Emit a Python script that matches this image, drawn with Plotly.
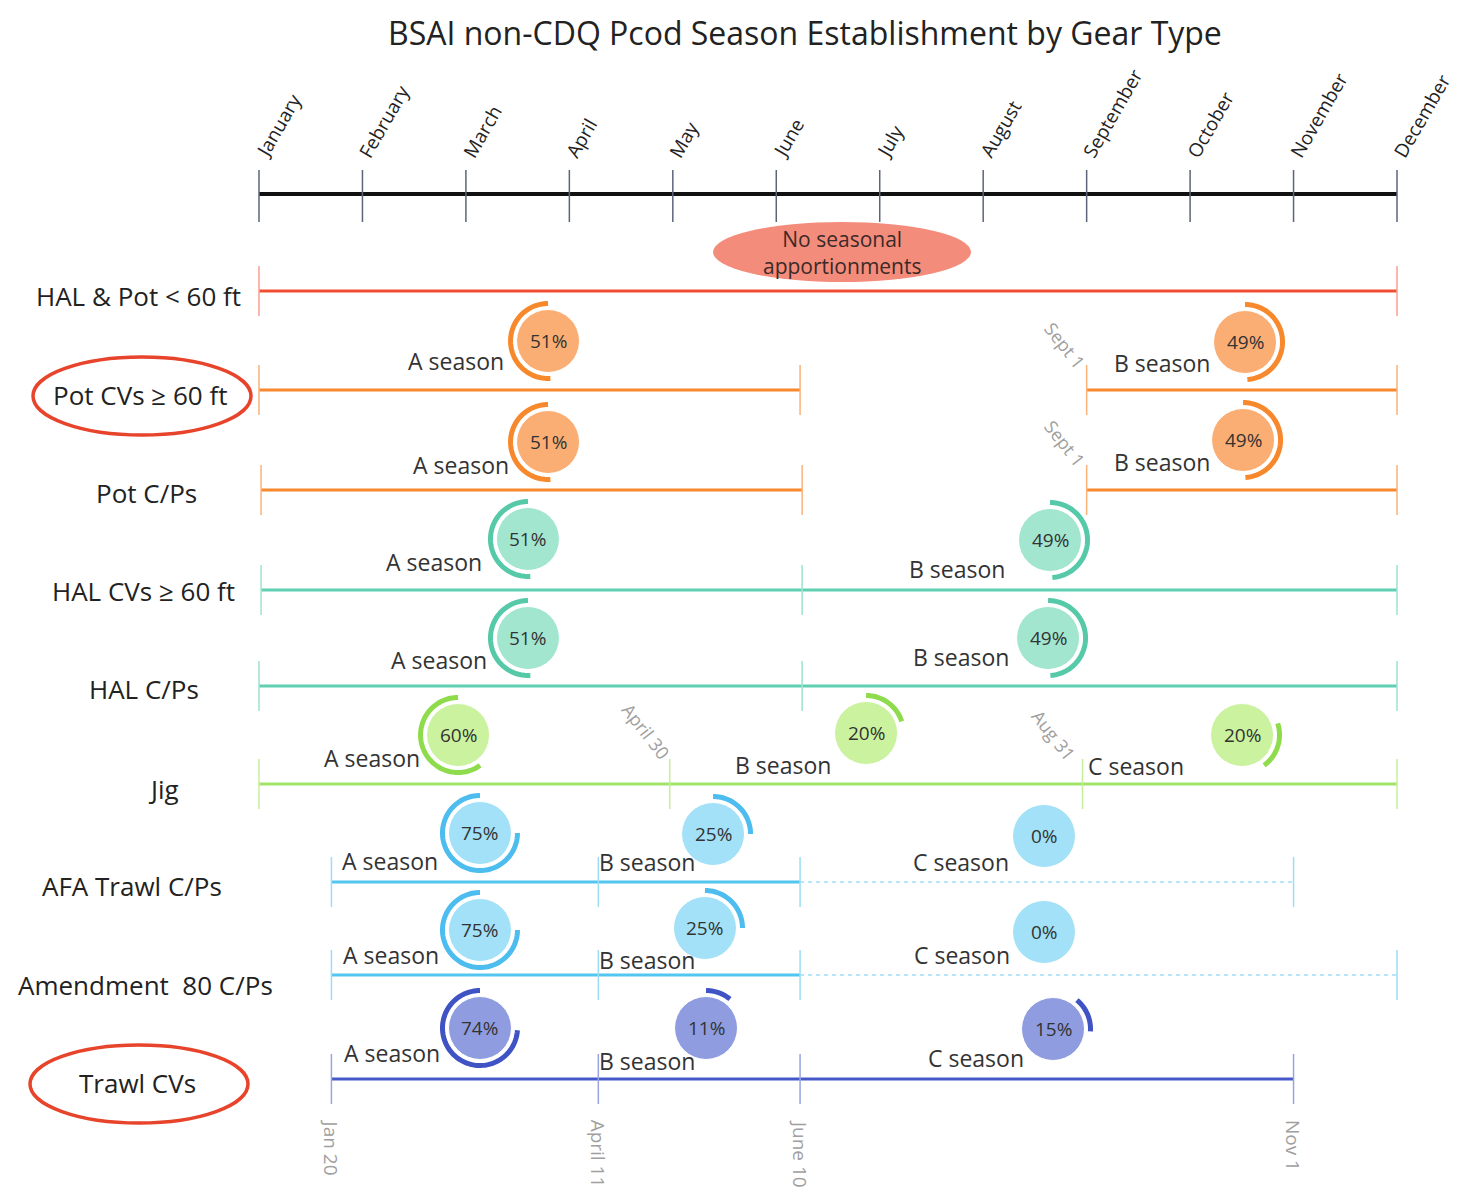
import math
import plotly.graph_objects as go

# ---------------- data ----------------
months = ["January", "February", "March", "April", "May", "June", "July",
          "August", "September", "October", "November", "December"]
month_pos = [0, 1, 2, 3, 4, 5, 6, 7, 8, 9, 10, 11]

gear_types = ["HAL & Pot < 60 ft", "Pot CVs ≥ 60 ft", "Pot C/Ps", "HAL CVs ≥ 60 ft",
              "HAL C/Ps", "Jig", "AFA Trawl C/Ps", "Amendment&nbsp; 80 C/Ps", "Trawl CVs"]
highlighted_gear = ["Pot CVs ≥ 60 ft", "Trawl CVs"]

# season line segments per gear type: (start, end) in month units, and line style
seg_start = [[0.0], [0.0, 8.0], [0.02, 8.0], [0.02, 5.25], [0.0, 5.25],
             [0.0, 3.97, 7.96], [0.70, 3.28, 5.23], [0.70, 3.28, 5.23], [0.70, 3.28, 5.23]]
seg_end = [[11.0], [5.23, 11.0], [5.25, 11.0], [5.25, 11.0], [5.25, 11.0],
           [3.97, 7.96, 11.0], [3.28, 5.23, 10.0], [3.28, 5.23, 11.0], [3.28, 5.23, 10.0]]
seg_dashed = [[False], [False, False], [False, False], [False, False], [False, False],
              [False, False, False], [False, False, True], [False, False, True],
              [False, False, False]]

# seasonal apportionments
season_row = [1, 1, 2, 2, 3, 3, 4, 4, 5, 5, 5, 6, 6, 6, 7, 7, 7, 8, 8, 8]
season_name = ["A season", "B season", "A season", "B season", "A season", "B season",
               "A season", "B season", "A season", "B season", "C season",
               "A season", "B season", "C season", "A season", "B season", "C season",
               "A season", "B season", "C season"]
season_pct = [51, 49, 51, 49, 51, 49, 51, 49, 60, 20, 20, 75, 25, 0, 75, 25, 0, 74, 11, 15]
# donut position along the year (month units)
season_x = [2.794, 9.531, 2.794, 9.512, 2.600, 7.646, 2.600, 7.627,
            1.924, 5.868, 9.502, 2.136, 4.389, 7.588, 2.136, 4.311, 7.588,
            2.136, 4.321, 7.675]

# boundary date labels
boundary_text = ["Sept 1", "Sept 1", "April 30", "Aug 31"]
boundary_row = [1, 2, 5, 5]
boundary_x = [8.0, 8.0, 3.97, 7.96]

bottom_dates = ["Jan 20", "April 11", "June 10", "Nov 1"]
bottom_x = [0.70, 3.28, 5.23, 10.0]

title = "BSAI non-CDQ Pcod Season Establishment by Gear Type"
note = "No seasonal<br>apportionments"

# ---------------- layout / style ----------------
# The page body has an 8px margin; all positions below are page pixels.
PAGE_W, PAGE_H = 1459, 1195
OFF = 8
W, H = PAGE_W - OFF, PAGE_H - OFF
X0_PX, X11_PX = 259, 1397
PPM = (X11_PX - X0_PX) / 11.0


def px2m(px):
    return (px - X0_PX) / PPM


row_y = [291, 390, 490, 590, 686, 784, 882, 975, 1079]
row_label_cx = [138, 140, 146, 143, 144, 163, 132, 145, 137]
row_label_dy = [5, 5, 3, 1, 3, 5, 4, 10, 4]

line_col = ["#F04E30", "#F7882C", "#F7882C", "#5FD0B2", "#5FD0B2", "#A2E36A",
            "#52C5F0", "#52C5F0", "#4658C8"]
tick_col = ["#F6A090", "#F9B27A", "#F9B27A", "#9FE2CF", "#9FE2CF", "#C4EE9A",
            "#9CDDF6", "#9CDDF6", "#98A4E2"]
fill_col = ["#FBAE74", "#FBAE74", "#FBAE74", "#A3E6D0", "#A3E6D0", "#CBF29E",
            "#A2E1F8", "#A2E1F8", "#8F9DE0"]
arc_col = ["#F7882C", "#F7882C", "#F7882C", "#55C9A8", "#55C9A8", "#8EDB4B",
           "#4CBDEE", "#4CBDEE", "#3F53C4"]

donut_rise = [49, 48, 48, 50, 51, 50, 48, 48, 49, 51, 49, 49, 48, 46, 45, 47, 43, 51, 51, 50]
lab_dx = [-42, -33, -37, -31, -44, -43, -39, -37, -36, -33, -56, -40, -16, -33,
          -39, -8, -32, -38, -9, -27]
lab_dy = [20, 21, 23, 22, 23, 29, 22, 19, 23, 32, 31, 28, 28, 26, 25, 32, 23, 25, 33, 29]
boundary_dx = [-22, -22, -24, -29]
boundary_rise = [45, 47, 53, 49]

FONT = "Open Sans"
R_CIRCLE = 31.5
R_ARC = 37.5

fig = go.Figure()
shapes = []
annotations = []

# title
annotations.append(dict(x=px2m(805), y=OFF + 1, xref="x", yref="y", text=title,
                        showarrow=False, font=dict(family=FONT, size=32, color="#222222"),
                        xanchor="center", yanchor="top"))

# top month axis
fig.add_trace(go.Scatter(x=[month_pos[0], month_pos[-1]], y=[194, 194], mode="lines",
                         line=dict(color="#111111", width=4), hoverinfo="skip",
                         showlegend=False))
tx, ty = [], []
for m in month_pos:
    tx += [m, m, None]
    ty += [170, 222, None]
fig.add_trace(go.Scatter(x=tx, y=ty, mode="lines", line=dict(color="#5C6478", width=1.5),
                         hoverinfo="skip", showlegend=False))
for m, name in zip(month_pos, months):
    annotations.append(dict(x=m, y=165, xref="x", yref="y", text=name, showarrow=False,
                            textangle=-60, xanchor="left", yanchor="bottom", xshift=-12,
                            font=dict(family=FONT, size=19, color="#222222")))

# "no seasonal apportionments" ellipse
shapes.append(dict(type="circle", xref="x", yref="y", xsizemode="pixel", ysizemode="pixel",
                   xanchor=px2m(842), yanchor=252, x0=-129, x1=129, y0=-30, y1=30,
                   fillcolor="#F48C7C", line=dict(width=0), layer="above"))
annotations.append(dict(x=px2m(842), y=252, xref="x", yref="y", text=note, showarrow=False,
                        font=dict(family=FONT, size=21, color="#3A2A28"),
                        xanchor="center", yanchor="middle"))

# gear rows
for i, g in enumerate(gear_types):
    y = row_y[i]
    ticks_x, ticks_y = [], []
    pts = set()
    for s, e, d in zip(seg_start[i], seg_end[i], seg_dashed[i]):
        fig.add_trace(go.Scatter(
            x=[s, e], y=[y, y], mode="lines", hoverinfo="skip", showlegend=False,
            line=dict(color=(tick_col[i] if d else line_col[i]), width=(1.5 if d else 3),
                      dash=("4px,4px" if d else "solid"))))
        pts.add(s)
        pts.add(e)
    for p in sorted(pts):
        ticks_x += [p, p, None]
        ticks_y += [y - 25, y + 25, None]
    fig.add_trace(go.Scatter(x=ticks_x, y=ticks_y, mode="lines", hoverinfo="skip",
                             showlegend=False, line=dict(color=tick_col[i], width=1.5)))
    annotations.append(dict(x=px2m(row_label_cx[i]), y=y + row_label_dy[i], xref="x", yref="y",
                            text=g, showarrow=False, xanchor="center", yanchor="middle",
                            font=dict(family=FONT, size=26, color="#222222")))
    if g in highlighted_gear:
        shapes.append(dict(type="circle", xref="x", yref="y", xsizemode="pixel",
                           ysizemode="pixel", xanchor=px2m(row_label_cx[i] + 2),
                           yanchor=y + row_label_dy[i] + 1, x0=-109, x1=109, y0=-39, y1=39,
                           line=dict(color="#E8432B", width=3.5), layer="above"))

# donuts: arcs are laid clockwise from 12 o'clock in order B, C, A
for k in range(len(season_pct)):
    r = season_row[k]
    row_members = [j for j in range(len(season_row)) if season_row[j] == r]
    by_name = {season_name[j][0]: season_pct[j] for j in row_members}
    start = 0.0
    for nm in ["B", "C", "A"]:
        if nm == season_name[k][0]:
            break
        start += by_name.get(nm, 0)
    start /= 100.0
    end = start + season_pct[k] / 100.0
    cx = season_x[k]
    cy = row_y[r] - donut_rise[k]
    shapes.append(dict(type="circle", xref="x", yref="y", xsizemode="pixel", ysizemode="pixel",
                       xanchor=cx, yanchor=cy, x0=-R_CIRCLE, x1=R_CIRCLE,
                       y0=-R_CIRCLE, y1=R_CIRCLE, fillcolor=fill_col[r],
                       line=dict(color="white", width=1), layer="above"))
    if season_pct[k] > 0:
        n = max(8, int(season_pct[k] * 1.2))
        pts = []
        for t in range(n + 1):
            a = 2 * math.pi * (start + (end - start) * t / n)
            pts.append((R_ARC * math.sin(a), R_ARC * math.cos(a)))
        path = "M " + " L ".join(f"{px:.2f},{py:.2f}" for px, py in pts)
        shapes.append(dict(type="path", xref="x", yref="y", xsizemode="pixel",
                           ysizemode="pixel", xanchor=cx, yanchor=cy, path=path,
                           line=dict(color=arc_col[r], width=5), layer="above"))
    annotations.append(dict(x=cx, y=cy, xref="x", yref="y", text=f"{season_pct[k]}%",
                            showarrow=False, xanchor="center", yanchor="middle",
                            font=dict(family=FONT, size=19, color="#333333")))
    annotations.append(dict(x=cx, y=cy + lab_dy[k], xref="x", yref="y", text=season_name[k],
                            showarrow=False, xanchor="right", yanchor="middle",
                            xshift=lab_dx[k],
                            font=dict(family=FONT, size=23, color="#333333")))

# boundary date labels
for t, r, bx, dx, rise in zip(boundary_text, boundary_row, boundary_x, boundary_dx,
                              boundary_rise):
    annotations.append(dict(x=bx, y=row_y[r] - rise, xref="x", yref="y", text=t,
                            showarrow=False, textangle=52, xanchor="center",
                            yanchor="middle", xshift=dx,
                            font=dict(family=FONT, size=18, color="#A0A0A0")))

for t, bx in zip(bottom_dates, bottom_x):
    annotations.append(dict(x=bx, y=1118, xref="x", yref="y", text=t, showarrow=False,
                            textangle=90, xanchor="center", yanchor="top",
                            font=dict(family=FONT, size=19, color="#A0A0A0")))

fig.update_layout(
    width=W, height=H, margin=dict(l=0, r=0, t=0, b=0),
    paper_bgcolor="white", plot_bgcolor="white",
    xaxis=dict(range=[px2m(OFF), px2m(PAGE_W)], visible=False, fixedrange=True),
    yaxis=dict(range=[PAGE_H, OFF], visible=False, fixedrange=True),
    shapes=shapes, annotations=annotations, showlegend=False,
)

fig.write_html("out.html")
